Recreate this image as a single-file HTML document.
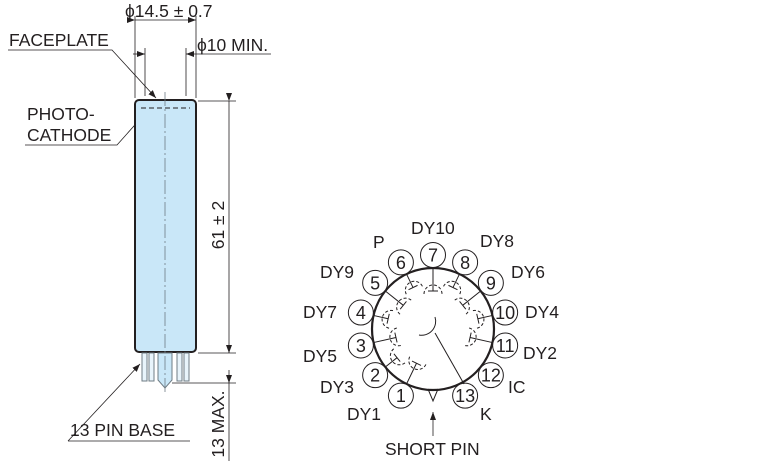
<!DOCTYPE html>
<html><head><meta charset="utf-8"><style>
html,body{margin:0;padding:0;background:#fff;}
svg{display:block;}
text{font-family:"Liberation Sans",sans-serif;fill:#231f20;}
</style></head><body>
<svg width="768" height="461" viewBox="0 0 768 461" xmlns="http://www.w3.org/2000/svg">
<defs>
<marker id="a" markerWidth="8" markerHeight="6" refX="8" refY="3" orient="auto" markerUnits="userSpaceOnUse"><path d="M0,0 L8,3 L0,6 Z" fill="#231f20"/></marker>
</defs>
<g stroke="#231f20" stroke-width="0.8" fill="none">
<line x1="135" y1="16" x2="135" y2="98"/>
<line x1="196" y1="16" x2="196" y2="98"/>
<line x1="135" y1="20" x2="196" y2="20" marker-start="url(#a)" marker-end="url(#a)"/>
<line x1="145" y1="48" x2="145" y2="96"/>
<line x1="186" y1="48" x2="186" y2="96"/>
<line x1="133" y1="54" x2="145" y2="54" marker-end="url(#a)"/>
<line x1="271" y1="54" x2="186" y2="54" marker-end="url(#a)"/>
<polyline points="8,50 112,50 156,98" marker-end="url(#a)"/>
<polyline points="25,145 117,145 150,108" marker-end="url(#a)"/>
<polyline points="68,441 190,441"/>
<line x1="68" y1="441" x2="140" y2="364" marker-end="url(#a)"/>
<line x1="198" y1="101" x2="236" y2="101"/>
<line x1="198" y1="353" x2="236" y2="353"/>
<line x1="172" y1="383" x2="236" y2="383"/>
<line x1="229" y1="101" x2="229" y2="353" marker-start="url(#a)" marker-end="url(#a)"/>
<line x1="229" y1="370" x2="229" y2="383" marker-end="url(#a)"/>
<line x1="229" y1="383" x2="229" y2="461"/>
</g>
<rect x="135" y="100" width="61" height="252" rx="4" fill="#c9e7f8" stroke="#231f20" stroke-width="2"/>
<g stroke="#6f7c84" stroke-width="1" fill="#e8f4fb">
<rect x="142" y="353" width="5" height="28"/>
<rect x="149" y="353" width="5" height="28"/>
<rect x="177" y="353" width="5" height="28"/>
<rect x="184" y="353" width="5" height="28"/>
<path d="M158,353 V380 L165,388 L172,380 V353 Z" fill="#c9e7f8"/>
</g>
<line x1="141" y1="108" x2="190" y2="108" stroke="#231f20" stroke-dasharray="5,3" stroke-width="1"/>
<line x1="165" y1="92" x2="165" y2="392" stroke="#6f7c84" stroke-dasharray="14,3,2,3" stroke-width="0.8"/>
<g font-size="17.5">
<text x="125" y="17">ϕ14.5 ± 0.7</text>
<text x="197" y="51">ϕ10 MIN.</text>
<text x="9" y="46">FACEPLATE</text>
<text x="27" y="120">PHOTO-</text>
<text x="27" y="141">CATHODE</text>
<text x="70" y="436">13 PIN BASE</text>
<text transform="translate(224,225) rotate(-90)" text-anchor="middle">61 ± 2</text>
<text transform="translate(224,424) rotate(-90)" text-anchor="middle">13 MAX.</text>
</g>
<g stroke="#231f20" fill="none">
<circle cx="433" cy="329" r="61" stroke-width="2.2"/>
</g>
<g stroke="#231f20" stroke-width="1" fill="#fff" font-size="18" id="pins"></g>
<g stroke="#231f20" stroke-width="1" fill="none" id="dy"></g>
<g font-size="17.5">
<text x="411" y="234">DY10</text>
<text x="373" y="248">P</text>
<text x="480" y="247">DY8</text>
<text x="320" y="278">DY9</text>
<text x="511" y="278">DY6</text>
<text x="303" y="318">DY7</text>
<text x="525" y="318">DY4</text>
<text x="303" y="362">DY5</text>
<text x="523" y="359">DY2</text>
<text x="320" y="393">DY3</text>
<text x="508" y="393">IC</text>
<text x="347" y="420">DY1</text>
<text x="480" y="420">K</text>
<text x="385" y="455">SHORT PIN</text>
</g>
<path d="M428,389 L433,401 L438,389" stroke="#231f20" fill="none"/>
<line x1="433" y1="436" x2="433" y2="412" stroke="#231f20" stroke-width="0.8" marker-end="url(#a)"/>
<script>
(function(){
var ns="http://www.w3.org/2000/svg",cx=433,cy=329,R=74,pins=document.getElementById('pins'),dy=document.getElementById('dy');
function el(p,t,a){var e=document.createElementNS(ns,t);for(var k in a)e.setAttribute(k,a[k]);p.appendChild(e);return e;}
for(var k=1;k<=13;k++){var th=k*2*Math.PI/14,x=cx-R*Math.sin(th),y=cy+R*Math.cos(th);
el(pins,'circle',{cx:x,cy:y,r:12.5});
var t=el(pins,'text',{x:x,y:y+6.5,'text-anchor':'middle',stroke:'none',fill:'#231f20'});t.textContent=k;}
for(var k=1;k<=11;k++){var th=k*2*Math.PI/14,s=Math.sin(th),c=Math.cos(th);
var r1=61,r2=(k%2?38:46);
var x1=cx-r1*s,y1=cy+r1*c,x2=cx-r2*s,y2=cy+r2*c;
el(dy,'line',{x1:x1,y1:y1,x2:x2,y2:y2});
el(dy,'line',{x1:x2+5*c,y1:y2+5*s,x2:x2-5*c,y2:y2-5*s});
var ra=9,ax=cx-(r2-3)*s,ay=cy+(r2-3)*c;
var p0x=ax+ra*c,p0y=ay+ra*s,p1x=ax-ra*c,p1y=ay-ra*s;
el(dy,'path',{d:'M'+p0x+','+p0y+' A'+ra+','+ra+' 0 0 1 '+p1x+','+p1y,'stroke-dasharray':'3,2'});}
el(dy,'line',{x1:cx+31,y1:cy+55,x2:cx+2,y2:cy+4});
el(dy,'path',{d:'M'+(cx-14)+','+(cy+6)+' A14,14 0 0 0 '+(cx+2)+','+(cy-12)});
})();
</script>
</svg>
</body></html>
